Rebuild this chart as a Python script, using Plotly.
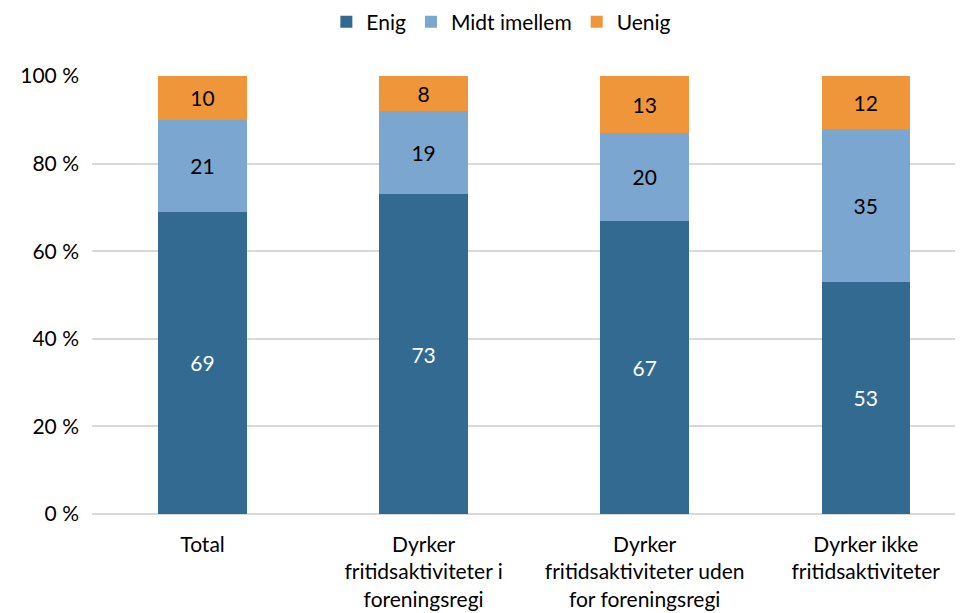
import plotly.graph_objects as go

categories = ["Total", "Dyrker<br>fritidsaktiviteter i<br>foreningsregi",
              "Dyrker<br>fritidsaktiviteter uden<br>for foreningsregi",
              "Dyrker ikke<br>fritidsaktiviteter"]
enig = [69, 73, 67, 53]
midt = [21, 19, 20, 35]
uenig = [10, 8, 13, 12]
tick_vals = [0, 20, 40, 60, 80, 100]
tick_text = ["0 %", "20 %", "40 %", "60 %", "80 %", "100 %"]

FONT = "Lato, 'Open Sans', sans-serif"
FS = 21
x = list(range(len(categories)))

fig = go.Figure()
series = [("Enig", enig, "#336A91", "white"),
          ("Midt imellem", midt, "#7AA6CF", "black"),
          ("Uenig", uenig, "#F0963A", "black")]
for name, vals, col, tcol in series:
    fig.add_trace(go.Bar(
        x=x, y=vals, name=name, marker=dict(color=col, line=dict(width=0)),
        width=0.4, text=[str(v) for v in vals], textposition="inside",
        insidetextanchor="middle", textangle=0,
        textfont=dict(color=tcol, size=FS, family=FONT),
        hoverinfo="skip"))

fig.update_layout(
    barmode="stack",
    width=955, height=605,
    margin=dict(l=84, r=0, t=68, b=99, autoexpand=False),
    paper_bgcolor="white", plot_bgcolor="white",
    font=dict(family=FONT, size=FS, color="black"),
    uniformtext=dict(minsize=FS, mode="show"),
    legend=dict(orientation="h", x=0.47, xanchor="center", y=1.123, yanchor="middle",
                font=dict(size=FS), itemwidth=30, traceorder="normal"),
    xaxis=dict(tickvals=x, ticktext=categories, range=[-0.5, 3.44],
               showgrid=False, showline=False, zeroline=False, ticks="",
               automargin=False, ticklabelstandoff=16),
    yaxis=dict(range=[0, 100], tickvals=tick_vals, ticktext=tick_text,
               showgrid=True, gridcolor="#D9D9D9", gridwidth=1.5,
               zeroline=True, zerolinecolor="#D9D9D9", zerolinewidth=1.5,
               showline=False, ticks="", ticklabelstandoff=12, automargin=False),
)
fig.write_html("out.html")
